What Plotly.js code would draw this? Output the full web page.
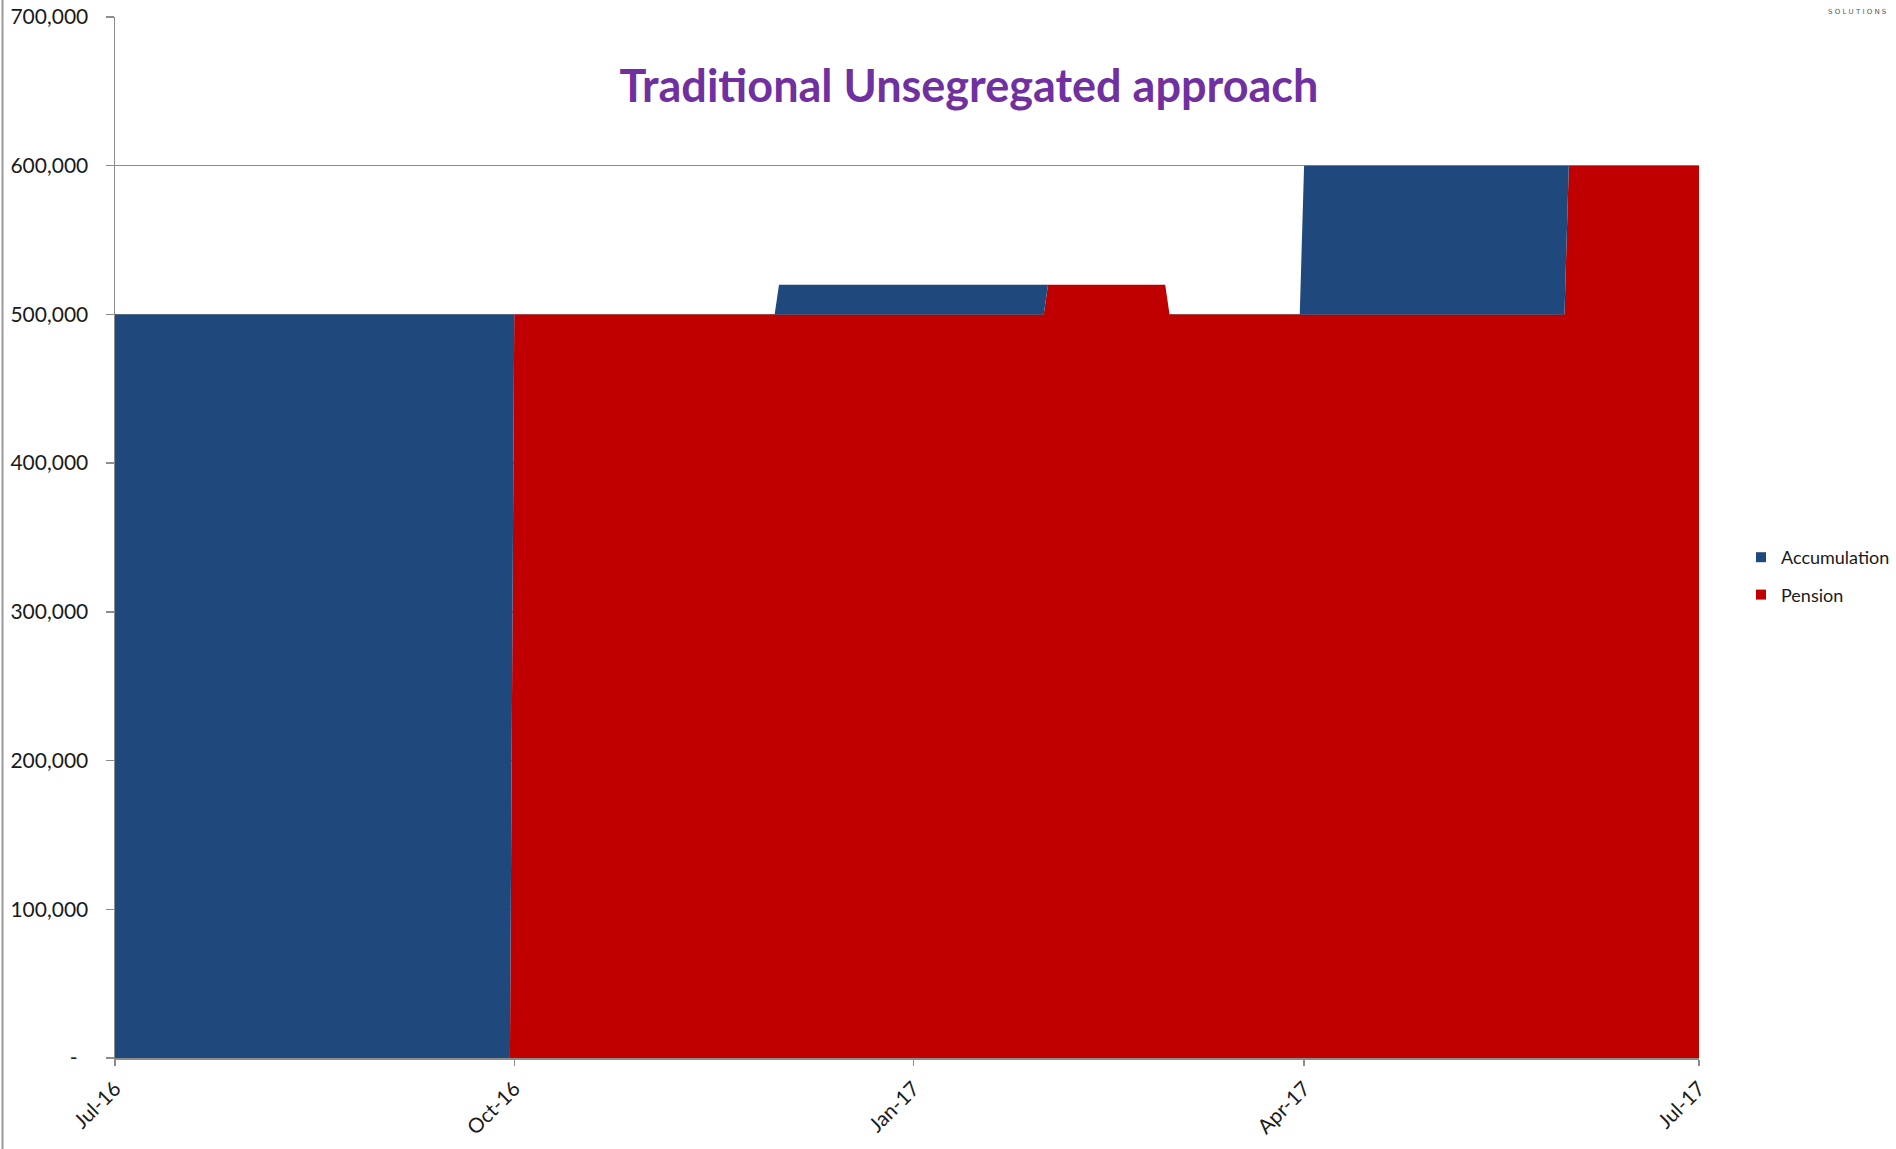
<!DOCTYPE html>
<html>
<head>
<meta charset="utf-8">
<script src="https://cdn.plot.ly/plotly-3.0.1.min.js"></script>
<style>
  html, body { margin: 0; padding: 0; background: #ffffff; }
  #chart { width: 1896px; height: 1149px; }
</style>
</head>
<body>
<div id="chart"></div>
<script>
// ---- Data ----
const dates = [
  '2016-07-01', '2016-09-30', '2016-10-01', '2016-11-30', '2016-12-01',
  '2017-01-31', '2017-02-01', '2017-02-28', '2017-03-01', '2017-03-31',
  '2017-04-01', '2017-05-31', '2017-06-01', '2017-07-01'
];
const pension = [
  0, 0, 500000, 500000, 500000,
  500000, 520000, 520000, 500000, 500000,
  500000, 500000, 600000, 600000
];
const accumulation = [
  500000, 500000, 0, 0, 20000,
  20000, 0, 0, 0, 0,
  100000, 100000, 0, 0
];
const seriesNames = ['Pension', 'Accumulation'];
const titleText = 'Traditional Unsegregated approach';
const xTickVals = ['2016-07-01', '2016-10-01', '2017-01-01', '2017-04-01', '2017-07-01'];
const xTickText = ['Jul-16', 'Oct-16', 'Jan-17', 'Apr-17', 'Jul-17'];
const yTickVals = [0, 100000, 200000, 300000, 400000, 500000, 600000, 700000];
const yTickText = ['-\u00a0\u00a0', '100,000', '200,000', '300,000', '400,000', '500,000', '600,000', '700,000'];

// ---- Styles ----
const RED = '#C00000';
const BLUE = '#1F497D';
const GRID = '#8C8C8C';
const TEXT = '#1a1a1a';
const FONT = 'Lato, "Open Sans", sans-serif';

const traces = [
  {
    x: dates, y: pension, name: seriesNames[0], type: 'scatter', mode: 'lines',
    stackgroup: 'one', line: { width: 0, color: RED }, fillcolor: RED,
    showlegend: false, hoverinfo: 'skip'
  },
  {
    x: dates, y: accumulation, name: seriesNames[1], type: 'scatter', mode: 'lines',
    stackgroup: 'one', line: { width: 0, color: BLUE }, fillcolor: BLUE,
    showlegend: false, hoverinfo: 'skip'
  },
  // legend entries (square markers like the reference)
  {
    x: [null], y: [null], name: seriesNames[1], type: 'scatter', mode: 'markers',
    marker: { symbol: 'square', size: 10, color: BLUE }, legendgroup: 'a', showlegend: true
  },
  {
    x: [null], y: [null], name: seriesNames[0], type: 'scatter', mode: 'markers',
    marker: { symbol: 'square', size: 10, color: RED }, legendgroup: 'p', showlegend: true
  }
];

const L = 115, R = 197, T = 17, B = 91;
const plotW = 1896 - L - R, plotH = 1149 - T - B;

const layout = {
  width: 1896, height: 1149,
  margin: { l: L, r: R, t: T, b: B, pad: 0, autoexpand: false },
  paper_bgcolor: '#ffffff', plot_bgcolor: '#ffffff',
  font: { family: FONT, color: TEXT, size: 20 },
  title: {
    text: titleText,
    font: { family: FONT, size: 45, color: '#7030A0', weight: 'bold' },
    xref: 'container', x: 969 / 1896, xanchor: 'center',
    yref: 'container', y: 1 - 86 / 1149, yanchor: 'middle'
  },
  xaxis: {
    type: 'date',
    range: ['2016-07-01', '2017-07-01'],
    tickmode: 'array', tickvals: xTickVals, ticktext: xTickText,
    tickangle: -45, tickfont: { family: FONT, size: 20.5, color: TEXT },
    ticklabelstandoff: 3,
    showgrid: false, zeroline: false,
    showline: true, linecolor: GRID, linewidth: 1.5,
    ticks: 'outside', ticklen: 6, tickcolor: GRID, tickwidth: 1.5
  },
  yaxis: {
    range: [0, 700000],
    tickmode: 'array', tickvals: yTickVals, ticktext: yTickText,
    tickfont: { family: FONT, size: 21, color: TEXT },
    ticklabelstandoff: 13,
    showgrid: true, gridcolor: GRID, gridwidth: 1.5,
    zeroline: false,
    showline: true, linecolor: GRID, linewidth: 1.5,
    ticks: 'outside', ticklen: 8, tickcolor: GRID, tickwidth: 1.5
  },
  legend: {
    x: (1741 - L) / plotW, xanchor: 'left',
    y: (1149 - B - 539) / plotH, yanchor: 'top',
    traceorder: 'grouped', tracegroupgap: 11,
    font: { family: FONT, size: 18, color: TEXT },
    bgcolor: 'rgba(0,0,0,0)', borderwidth: 0
  },
  shapes: [
    {
      type: 'line', xref: 'paper', yref: 'paper',
      x0: (2.5 - L) / plotW, x1: (2.5 - L) / plotW,
      y0: -(B) / plotH, y1: 1 + T / plotH,
      line: { color: '#9a9a9a', width: 2 }
    }
  ],
  annotations: [
    {
      text: 'S O L U T I O N S', xref: 'paper', yref: 'paper',
      x: (1857 - L) / plotW, y: 1 + (T - 12) / plotH,
      xanchor: 'center', yanchor: 'middle', showarrow: false,
      font: { family: 'DejaVu Sans, sans-serif', size: 7, color: '#555555' }
    }
  ],
  hovermode: false
};

Plotly.newPlot('chart', traces, layout, { staticPlot: true, displayModeBar: false });
</script>
</body>
</html>
